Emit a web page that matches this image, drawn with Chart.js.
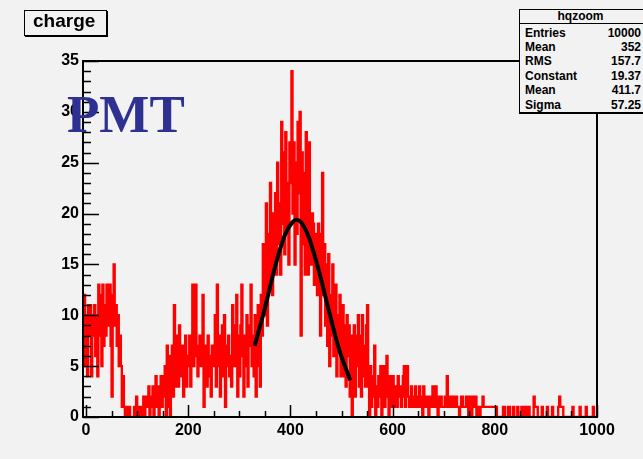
<!DOCTYPE html>
<html>
<head>
<meta charset="utf-8">
<script src="https://cdn.jsdelivr.net/npm/chart.js@4/dist/chart.umd.min.js"></script>
<style>
  body { margin: 0; background: #f2f2f2; }
  #wrap { position: relative; width: 643px; height: 459px; overflow: hidden; background: #f2f2f2; }
  #c { position: absolute; left: 0; top: 0; }
  .lbl { position: absolute; font-family: 'Liberation Sans', Arial, sans-serif; font-weight: bold; color: #000; white-space: nowrap; }
  .stat { font-size: 12px; line-height: 12px; }
  #titleBox { position: absolute; left: 24px; top: 10px; width: 81px; height: 24px; border: 1px solid #000; box-shadow: 1px 1px 0 #000; background: #f2f2f2; }
  #statsBox { position: absolute; left: 519px; top: 9px; width: 140px; height: 102px; border: 1px solid #000; border-bottom-width: 2px; background: #f2f2f2; }
  #statsHead { position: absolute; left: 519px; top: 23px; width: 140px; height: 0; border-top: 1px solid #000; }
  #pmt { position: absolute; left: 67px; top: 88px; font-family: 'Liberation Serif', 'Times New Roman', serif; font-weight: bold; font-size: 53px; line-height: 53px; color: #2e3192; }
</style>
</head>
<body>
<div id="wrap">
  <canvas id="c" width="643" height="459"></canvas>
  <div id="titleBox"></div>
  <div class="lbl" id="title" style="left:33px;top:10.6px;font-size:19px;line-height:19px;">charge</div>
  <div id="statsBox"></div>
  <div id="statsHead"></div>
  <div id="stats"></div>
  <div id="pmt">PMT</div>
</div>
<script>
// histogram "hqzoom": bins of width 2 starting at -6, counts
const binStart = -6;
const binWidth = 2;
const counts = [
  8,12,5,
  10,4,11,8,11,4,10,8,11,6,10,4,13,8,12,5,13,7,11,8,13,9,12,13,7,
  2,12,15,9,11,7,10,5,8,5,1,4,1,0,1,0,0,1,0,0,0,0,1,0,2,
  0,0,1,0,0,1,2,0,1,2,1,3,0,2,1,3,0,2,4,1,3,0,2,4,1,
  4,2,5,0,7,1,6,0,5,7,2,11,3,8,5,3,9,4,6,7,2,5,8,3,6,
  5,8,3,6,13,5,9,13,6,4,7,8,5,6,12,1,5,7,3,8,4,6,2,7,5,
  6,10,3,13,5,8,2,6,9,4,10,1,7,5,8,4,6,3,11,7,5,9,12,2,8,
  4,9,13,6,2,8,5,10,3,7,9,13,5,8,4,10,2,7,11,5,3,12,8,17,10,
  14,21,9,18,13,23,16,12,20,15,22,14,25,17,21,14,29,19,26,16,28,18,23,15,27,
  23,34,20,27,15,25,18,29,22,30,8,26,17,24,14,28,21,14,27,19,15,20,19,13,18,
  16,12,19,14,8,18,24,12,17,9,15,7,16,5,12,8,15,6,11,13,4,10,7,12,4,
  7,11,4,9,3,10,6,9,2,8,0,6,9,2,8,5,10,3,8,2,10,4,7,3,9,
  11,3,0,5,1,4,2,7,0,3,1,4,2,5,0,3,5,1,2,6,3,0,4,2,1,
  4,1,3,2,1,4,2,3,1,2,4,5,1,3,5,2,1,2,3,1,2,1,3,2,1,
  2,3,1,2,0,3,1,2,1,2,0,1,2,1,3,2,1,3,1,0,2,1,2,1,1,
  1,2,1,4,2,1,1,2,1,2,2,1,2,1,1,0,1,2,2,1,1,1,2,1,0,
  2,1,0,2,1,1,2,0,1,1,0,1,1,2,1,1,1,1,1,1,1,1,1,1,1,
  1,1,0,0,0,0,0,0,1,1,0,0,0,1,1,0,0,0,1,0,0,0,1,0,0,
  0,1,1,0,0,1,0,0,1,0,0,0,0,2,1,1,1,0,0,0,0,1,0,0,0,
  0,1,0,0,0,0,1,0,0,0,0,0,1,2,1,1,1,0,0,0,0,0,0,0,0,
  0,1,0,0,0,0,0,0,1,0,0,0,0,0,1,0,0,0,0,0,0,1,0,0,0
];

// gaussian fit curve
const fitX = [330, 350, 370, 390, 405, 412, 420, 435, 455, 475, 495, 517];
const fitY = [7.0, 10.7, 14.8, 18.0, 19.2, 19.4, 19.2, 17.8, 14.5, 10.5, 6.7, 3.6];

const xTickLabels = [0, 200, 400, 600, 800, 1000];
const yTickLabels = [0, 5, 10, 15, 20, 25, 30, 35];

const statNames  = ['Entries', 'Mean', 'RMS', 'Constant', 'Mean', 'Sigma'];
const statValues = ['10000', '352', '157.7', '19.37', '411.7', '57.25'];

// stats box text
const statsEl = document.getElementById('stats');
let html = `<div class="lbl stat" style="left:519px;width:123px;text-align:center;top:9.8px;">hqzoom</div>`;
statNames.forEach((n, i) => {
  const top = 36.7 + i * 14.4 - 10.16;
  html += `<div class="lbl stat" style="left:525px;top:${top}px;">${n}</div>`;
  html += `<div class="lbl stat" style="right:2px;top:${top}px;text-align:right;">${statValues[i]}</div>`;
});
statsEl.innerHTML = html;

const histPoints = counts.map((c, i) => ({ x: binStart + i * binWidth, y: c }));
histPoints.push({ x: binStart + counts.length * binWidth, y: counts[counts.length - 1] });
const fitPoints = fitX.map((x, i) => ({ x, y: fitY[i] }));

const frameTicks = {
  id: 'frameTicks',
  afterDraw(chart) {
    const { ctx, chartArea: { left, right, top, bottom }, scales: { x, y } } = chart;
    ctx.save();
    ctx.strokeStyle = '#000';
    ctx.lineWidth = 1.5;
    ctx.beginPath();
    for (let v = 0; v <= 1000; v += 50) {
      const px = Math.round(x.getPixelForValue(v)) + 0.5;
      const len = v % 200 === 0 ? 12 : 6;
      ctx.moveTo(px, bottom);
      ctx.lineTo(px, bottom - len);
    }
    for (let v = 0; v <= 35; v += 1) {
      const py = Math.round(y.getPixelForValue(v)) + 0.5;
      const len = v % 5 === 0 ? 16 : 8;
      ctx.moveTo(left, py);
      ctx.lineTo(left + len, py);
    }
    ctx.stroke();
    ctx.lineWidth = 2;
    ctx.strokeRect(left, top, right - left, bottom - top);
    ctx.restore();
  }
};

const tickFont = { family: "'Liberation Sans', Arial, sans-serif", size: 16, weight: 'bold' };

new Chart(document.getElementById('c'), {
  type: 'line',
  data: {
    datasets: [
      {
        label: 'fit',
        data: fitPoints,
        borderColor: '#000',
        borderWidth: 4,
        pointRadius: 0,
        fill: false,
        cubicInterpolationMode: 'monotone',
      },
      {
        label: 'hqzoom',
        data: histPoints,
        borderColor: '#ff0000',
        borderWidth: 2.4,
        pointRadius: 0,
        fill: false,
        stepped: true,
      }
    ]
  },
  options: {
    responsive: false,
    animation: false,
    events: [],
    layout: { padding: { top: 61, right: 46, left: 0, bottom: 0 } },
    plugins: { legend: { display: false }, tooltip: { enabled: false } },
    scales: {
      x: {
        type: 'linear',
        min: binStart,
        max: 1000,
        grid: { display: false, drawTicks: false },
        border: { display: false },
        afterBuildTicks: s => { s.ticks = xTickLabels.map(v => ({ value: v })); },
        afterFit: s => { s.height = 42; },
        ticks: { color: '#000', font: tickFont, padding: 4, autoSkip: false, maxRotation: 0, callback: v => String(v) },
      },
      y: {
        min: 0,
        max: 35,
        grid: { display: false, drawTicks: false },
        border: { display: false },
        afterBuildTicks: s => { s.ticks = yTickLabels.map(v => ({ value: v })); },
        afterFit: s => { s.width = 83; },
        ticks: { color: '#000', font: tickFont, padding: 4, autoSkip: false, callback: v => String(v) },
      }
    }
  },
  plugins: [frameTicks]
});
</script>
</body>
</html>
